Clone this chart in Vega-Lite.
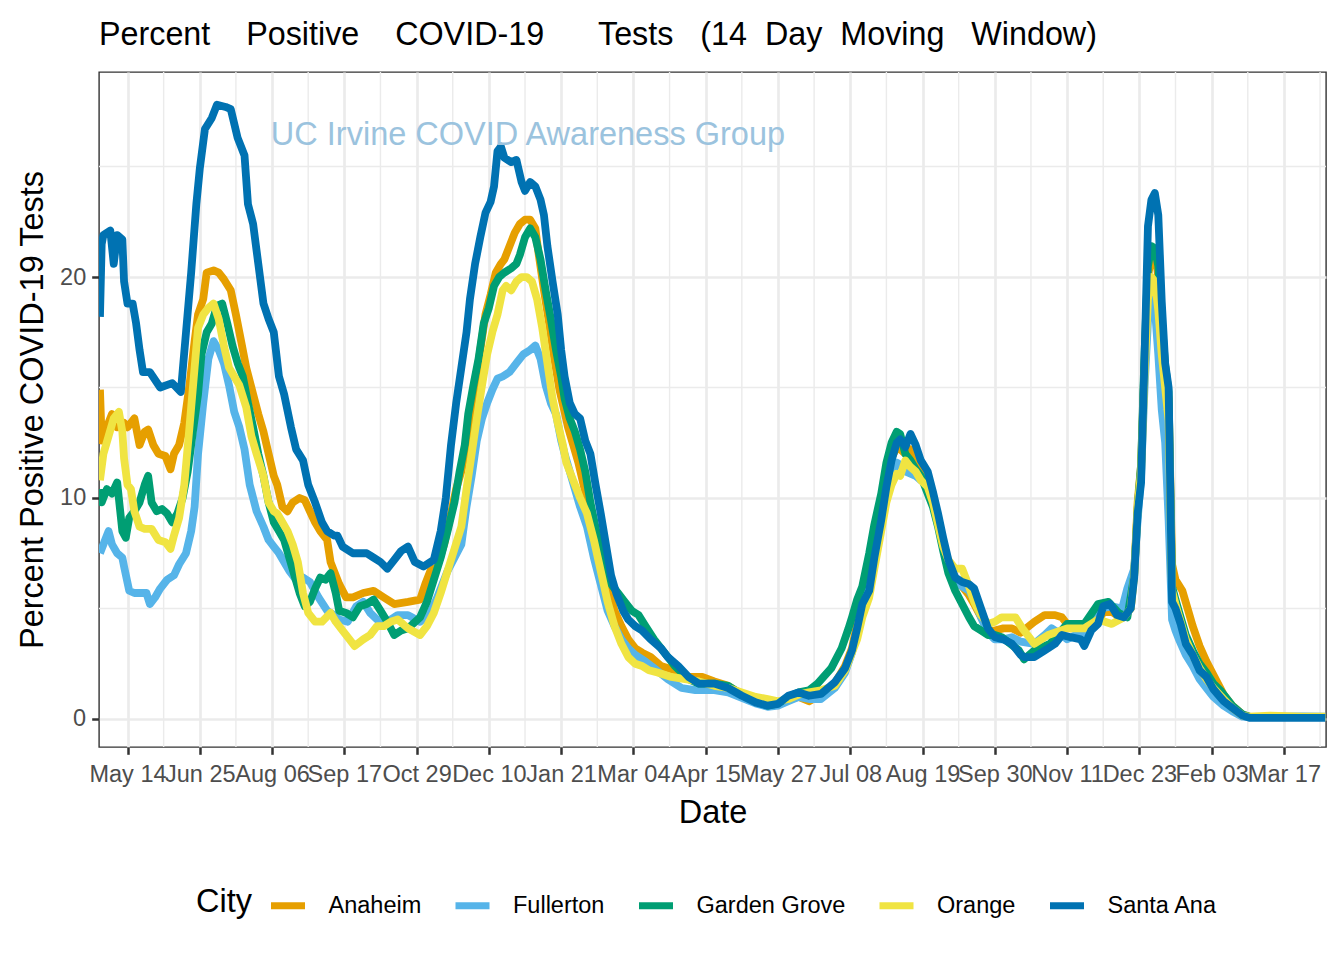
{
"$schema": "https://vega.github.io/schema/vega-lite/v6.json",
"width": 1227, "height": 675,
"autosize": {"type": "none"},
"padding": {"left": 99, "top": 72, "right": 18, "bottom": 213},
"background": "white",
"title": {"text": "Percent\u00a0\u00a0\u00a0\u00a0Positive\u00a0\u00a0\u00a0\u00a0COVID-19\u00a0\u00a0\u00a0\u00a0\u00a0\u00a0Tests\u00a0\u00a0\u00a0(14\u00a0\u00a0Day\u00a0\u00a0Moving\u00a0\u00a0\u00a0Window)", "anchor": "start", "frame": "group", "font": "Liberation Sans", "fontSize": 32.3, "fontWeight": "normal", "color": "#000000", "baseline": "alphabetic", "offset": 27, "dy": 33},
"datasets": {
"anaheim": [
{"d":"2020-04-28","v":14.9},{"d":"2020-04-29","v":12.6},{"d":"2020-05-02","v":13.2},{"d":"2020-05-05","v":13.8},{"d":"2020-05-08","v":13.2},{"d":"2020-05-12","v":13.4},{"d":"2020-05-14","v":13.2},{"d":"2020-05-18","v":13.6},{"d":"2020-05-21","v":12.4},{"d":"2020-05-24","v":13.0},{"d":"2020-05-26","v":13.1},{"d":"2020-05-29","v":12.4},{"d":"2020-06-01","v":12.0},{"d":"2020-06-05","v":11.9},{"d":"2020-06-08","v":11.3},{"d":"2020-06-10","v":12.0},{"d":"2020-06-13","v":12.4},{"d":"2020-06-16","v":13.4},{"d":"2020-06-19","v":15.1},{"d":"2020-06-22","v":17.1},{"d":"2020-06-24","v":18.3},{"d":"2020-06-27","v":19.0},{"d":"2020-06-29","v":20.2},{"d":"2020-07-03","v":20.3},{"d":"2020-07-06","v":20.2},{"d":"2020-07-09","v":19.9},{"d":"2020-07-13","v":19.4},{"d":"2020-07-16","v":18.3},{"d":"2020-07-19","v":17.1},{"d":"2020-07-22","v":15.9},{"d":"2020-07-26","v":14.7},{"d":"2020-07-29","v":13.8},{"d":"2020-08-01","v":13.0},{"d":"2020-08-04","v":12.0},{"d":"2020-08-07","v":11.0},{"d":"2020-08-09","v":10.6},{"d":"2020-08-12","v":9.6},{"d":"2020-08-15","v":9.4},{"d":"2020-08-18","v":9.8},{"d":"2020-08-22","v":10.0},{"d":"2020-08-25","v":9.9},{"d":"2020-08-28","v":9.4},{"d":"2020-08-31","v":8.9},{"d":"2020-09-03","v":8.5},{"d":"2020-09-07","v":8.1},{"d":"2020-09-09","v":7.1},{"d":"2020-09-12","v":6.5},{"d":"2020-09-14","v":6.1},{"d":"2020-09-18","v":5.5},{"d":"2020-09-22","v":5.5},{"d":"2020-09-28","v":5.7},{"d":"2020-10-04","v":5.8},{"d":"2020-10-10","v":5.5},{"d":"2020-10-16","v":5.2},{"d":"2020-10-24","v":5.3},{"d":"2020-10-31","v":5.4},{"d":"2020-11-03","v":6.1},{"d":"2020-11-06","v":6.7},{"d":"2020-11-10","v":6.9},{"d":"2020-11-14","v":7.9},{"d":"2020-11-18","v":9.3},{"d":"2020-11-21","v":10.4},{"d":"2020-11-24","v":11.2},{"d":"2020-11-27","v":12.4},{"d":"2020-11-29","v":13.6},{"d":"2020-12-02","v":15.1},{"d":"2020-12-05","v":16.7},{"d":"2020-12-08","v":18.3},{"d":"2020-12-11","v":19.2},{"d":"2020-12-14","v":20.2},{"d":"2020-12-17","v":20.6},{"d":"2020-12-19","v":20.8},{"d":"2020-12-22","v":21.4},{"d":"2020-12-25","v":22.0},{"d":"2020-12-28","v":22.4},{"d":"2020-12-31","v":22.6},{"d":"2021-01-03","v":22.6},{"d":"2021-01-06","v":22.2},{"d":"2021-01-08","v":21.0},{"d":"2021-01-11","v":19.4},{"d":"2021-01-14","v":17.9},{"d":"2021-01-17","v":16.3},{"d":"2021-01-20","v":14.9},{"d":"2021-01-23","v":13.9},{"d":"2021-01-25","v":13.2},{"d":"2021-01-28","v":12.4},{"d":"2021-01-31","v":11.6},{"d":"2021-02-03","v":10.6},{"d":"2021-02-06","v":9.6},{"d":"2021-02-09","v":8.5},{"d":"2021-02-13","v":7.3},{"d":"2021-02-17","v":6.1},{"d":"2021-02-21","v":4.9},{"d":"2021-02-25","v":4.2},{"d":"2021-03-01","v":3.6},{"d":"2021-03-05","v":3.2},{"d":"2021-03-09","v":3.0},{"d":"2021-03-14","v":2.8},{"d":"2021-03-20","v":2.4},{"d":"2021-03-28","v":2.2},{"d":"2021-04-05","v":1.9},{"d":"2021-04-13","v":1.9},{"d":"2021-04-20","v":1.7},{"d":"2021-04-28","v":1.5},{"d":"2021-05-06","v":1.1},{"d":"2021-05-14","v":0.8},{"d":"2021-05-21","v":0.65},{"d":"2021-05-27","v":0.7},{"d":"2021-06-02","v":0.9},{"d":"2021-06-08","v":1.0},{"d":"2021-06-14","v":0.8},{"d":"2021-06-21","v":1.1},{"d":"2021-06-29","v":1.6},{"d":"2021-07-05","v":2.4},{"d":"2021-07-09","v":3.2},{"d":"2021-07-12","v":4.3},{"d":"2021-07-15","v":5.3},{"d":"2021-07-19","v":6.0},{"d":"2021-07-22","v":7.6},{"d":"2021-07-26","v":9.3},{"d":"2021-07-29","v":10.8},{"d":"2021-08-01","v":11.8},{"d":"2021-08-04","v":12.3},{"d":"2021-08-06","v":12.2},{"d":"2021-08-09","v":12.0},{"d":"2021-08-12","v":12.2},{"d":"2021-08-15","v":11.8},{"d":"2021-08-18","v":11.3},{"d":"2021-08-22","v":10.8},{"d":"2021-08-25","v":10.0},{"d":"2021-08-28","v":9.0},{"d":"2021-08-31","v":8.0},{"d":"2021-09-03","v":7.0},{"d":"2021-09-07","v":6.3},{"d":"2021-09-11","v":6.0},{"d":"2021-09-15","v":5.6},{"d":"2021-09-18","v":5.2},{"d":"2021-09-22","v":4.6},{"d":"2021-09-26","v":4.0},{"d":"2021-09-30","v":4.0},{"d":"2021-10-05","v":4.1},{"d":"2021-10-10","v":4.1},{"d":"2021-10-15","v":3.9},{"d":"2021-10-23","v":4.4},{"d":"2021-10-29","v":4.7},{"d":"2021-11-04","v":4.7},{"d":"2021-11-08","v":4.6},{"d":"2021-11-13","v":4.1},{"d":"2021-11-19","v":4.2},{"d":"2021-11-25","v":4.4},{"d":"2021-11-29","v":4.4},{"d":"2021-12-02","v":4.8},{"d":"2021-12-06","v":4.9},{"d":"2021-12-10","v":4.7},{"d":"2021-12-14","v":4.7},{"d":"2021-12-18","v":5.0},{"d":"2021-12-20","v":6.6},{"d":"2021-12-22","v":9.8},{"d":"2021-12-24","v":11.5},{"d":"2021-12-26","v":16.0},{"d":"2021-12-28","v":20.0},{"d":"2021-12-30","v":21.0},{"d":"2022-01-01","v":21.2},{"d":"2022-01-03","v":20.0},{"d":"2022-01-05","v":17.5},{"d":"2022-01-07","v":15.5},{"d":"2022-01-09","v":14.5},{"d":"2022-01-11","v":7.0},{"d":"2022-01-13","v":6.3},{"d":"2022-01-17","v":5.8},{"d":"2022-01-20","v":5.0},{"d":"2022-01-23","v":4.2},{"d":"2022-01-27","v":3.3},{"d":"2022-01-31","v":2.6},{"d":"2022-02-04","v":2.0},{"d":"2022-02-10","v":1.1},{"d":"2022-02-15","v":0.6},{"d":"2022-02-21","v":0.2},{"d":"2022-02-25","v":0.1},{"d":"2022-03-09","v":0.08},{"d":"2022-03-28","v":0.08},{"d":"2022-04-10","v":0.08}
],
"fullerton": [
{"d":"2020-04-28","v":7.5},{"d":"2020-05-01","v":8.1},{"d":"2020-05-03","v":8.5},{"d":"2020-05-05","v":7.9},{"d":"2020-05-08","v":7.5},{"d":"2020-05-11","v":7.3},{"d":"2020-05-12","v":6.9},{"d":"2020-05-15","v":5.8},{"d":"2020-05-18","v":5.7},{"d":"2020-05-22","v":5.7},{"d":"2020-05-25","v":5.7},{"d":"2020-05-27","v":5.2},{"d":"2020-05-30","v":5.5},{"d":"2020-06-02","v":5.9},{"d":"2020-06-06","v":6.3},{"d":"2020-06-10","v":6.5},{"d":"2020-06-13","v":7.0},{"d":"2020-06-17","v":7.5},{"d":"2020-06-20","v":8.5},{"d":"2020-06-22","v":9.6},{"d":"2020-06-24","v":12.0},{"d":"2020-06-27","v":14.3},{"d":"2020-06-30","v":16.3},{"d":"2020-07-03","v":17.1},{"d":"2020-07-06","v":16.7},{"d":"2020-07-09","v":16.1},{"d":"2020-07-12","v":15.1},{"d":"2020-07-15","v":13.9},{"d":"2020-07-18","v":13.2},{"d":"2020-07-21","v":12.2},{"d":"2020-07-24","v":10.6},{"d":"2020-07-28","v":9.4},{"d":"2020-08-01","v":8.7},{"d":"2020-08-04","v":8.1},{"d":"2020-08-07","v":7.8},{"d":"2020-08-10","v":7.5},{"d":"2020-08-13","v":7.1},{"d":"2020-08-16","v":6.7},{"d":"2020-08-20","v":6.3},{"d":"2020-08-24","v":6.4},{"d":"2020-08-28","v":6.2},{"d":"2020-09-02","v":5.5},{"d":"2020-09-07","v":4.9},{"d":"2020-09-11","v":4.7},{"d":"2020-09-14","v":4.5},{"d":"2020-09-19","v":4.4},{"d":"2020-09-24","v":5.1},{"d":"2020-09-28","v":5.3},{"d":"2020-10-02","v":4.8},{"d":"2020-10-06","v":4.5},{"d":"2020-10-12","v":4.4},{"d":"2020-10-18","v":4.7},{"d":"2020-10-24","v":4.7},{"d":"2020-10-31","v":4.4},{"d":"2020-11-06","v":4.8},{"d":"2020-11-10","v":5.5},{"d":"2020-11-13","v":6.1},{"d":"2020-11-16","v":6.7},{"d":"2020-11-20","v":7.3},{"d":"2020-11-24","v":7.9},{"d":"2020-11-27","v":9.6},{"d":"2020-11-30","v":11.0},{"d":"2020-12-03","v":12.6},{"d":"2020-12-06","v":13.6},{"d":"2020-12-09","v":14.3},{"d":"2020-12-12","v":14.9},{"d":"2020-12-15","v":15.4},{"d":"2020-12-18","v":15.5},{"d":"2020-12-22","v":15.7},{"d":"2020-12-26","v":16.1},{"d":"2020-12-30","v":16.5},{"d":"2021-01-03","v":16.7},{"d":"2021-01-06","v":16.9},{"d":"2021-01-09","v":16.3},{"d":"2021-01-12","v":15.1},{"d":"2021-01-15","v":14.3},{"d":"2021-01-18","v":13.8},{"d":"2021-01-21","v":12.6},{"d":"2021-01-23","v":12.0},{"d":"2021-01-26","v":11.2},{"d":"2021-01-29","v":10.4},{"d":"2021-02-01","v":9.6},{"d":"2021-02-05","v":8.7},{"d":"2021-02-09","v":7.3},{"d":"2021-02-13","v":6.1},{"d":"2021-02-17","v":4.9},{"d":"2021-02-21","v":4.2},{"d":"2021-02-25","v":3.6},{"d":"2021-03-01","v":3.2},{"d":"2021-03-05","v":2.9},{"d":"2021-03-11","v":2.6},{"d":"2021-03-16","v":2.3},{"d":"2021-03-24","v":1.8},{"d":"2021-04-01","v":1.4},{"d":"2021-04-09","v":1.3},{"d":"2021-04-20","v":1.3},{"d":"2021-04-28","v":1.2},{"d":"2021-05-06","v":0.95},{"d":"2021-05-14","v":0.7},{"d":"2021-05-21","v":0.55},{"d":"2021-05-27","v":0.6},{"d":"2021-06-02","v":0.8},{"d":"2021-06-08","v":1.0},{"d":"2021-06-14","v":0.9},{"d":"2021-06-21","v":0.9},{"d":"2021-06-29","v":1.4},{"d":"2021-07-05","v":2.1},{"d":"2021-07-09","v":3.0},{"d":"2021-07-12","v":4.0},{"d":"2021-07-15","v":5.3},{"d":"2021-07-19","v":6.0},{"d":"2021-07-22","v":7.2},{"d":"2021-07-26","v":8.8},{"d":"2021-07-29","v":10.2},{"d":"2021-08-01","v":11.0},{"d":"2021-08-04","v":11.6},{"d":"2021-08-06","v":11.5},{"d":"2021-08-09","v":11.2},{"d":"2021-08-12","v":11.1},{"d":"2021-08-15","v":11.0},{"d":"2021-08-18","v":10.8},{"d":"2021-08-22","v":10.6},{"d":"2021-08-25","v":10.0},{"d":"2021-08-28","v":9.0},{"d":"2021-08-31","v":7.8},{"d":"2021-09-03","v":6.9},{"d":"2021-09-07","v":6.2},{"d":"2021-09-11","v":6.0},{"d":"2021-09-15","v":5.8},{"d":"2021-09-18","v":5.4},{"d":"2021-09-22","v":4.6},{"d":"2021-09-26","v":3.9},{"d":"2021-09-30","v":3.6},{"d":"2021-10-05","v":3.6},{"d":"2021-10-10","v":3.7},{"d":"2021-10-15","v":3.5},{"d":"2021-10-23","v":3.4},{"d":"2021-10-29","v":3.8},{"d":"2021-11-02","v":4.1},{"d":"2021-11-08","v":3.8},{"d":"2021-11-11","v":3.6},{"d":"2021-11-16","v":3.8},{"d":"2021-11-21","v":3.9},{"d":"2021-11-25","v":4.1},{"d":"2021-12-01","v":5.0},{"d":"2021-12-07","v":5.1},{"d":"2021-12-13","v":5.0},{"d":"2021-12-16","v":5.9},{"d":"2021-12-20","v":6.8},{"d":"2021-12-22","v":9.0},{"d":"2021-12-24","v":11.0},{"d":"2021-12-26","v":15.0},{"d":"2021-12-28","v":18.0},{"d":"2021-12-30","v":19.0},{"d":"2022-01-01","v":18.6},{"d":"2022-01-03","v":16.5},{"d":"2022-01-05","v":14.0},{"d":"2022-01-07","v":12.5},{"d":"2022-01-09","v":9.0},{"d":"2022-01-11","v":4.5},{"d":"2022-01-13","v":4.0},{"d":"2022-01-15","v":3.6},{"d":"2022-01-19","v":2.9},{"d":"2022-01-23","v":2.4},{"d":"2022-01-27","v":1.8},{"d":"2022-01-31","v":1.4},{"d":"2022-02-04","v":1.0},{"d":"2022-02-10","v":0.6},{"d":"2022-02-15","v":0.35},{"d":"2022-02-21","v":0.1},{"d":"2022-02-25","v":0.08},{"d":"2022-03-09","v":0.1},{"d":"2022-03-28","v":0.12},{"d":"2022-04-10","v":0.1}
],
"gardengrove": [
{"d":"2020-04-28","v":10.4},{"d":"2020-04-29","v":9.8},{"d":"2020-05-02","v":10.4},{"d":"2020-05-05","v":10.2},{"d":"2020-05-08","v":10.7},{"d":"2020-05-11","v":8.5},{"d":"2020-05-13","v":8.2},{"d":"2020-05-15","v":9.1},{"d":"2020-05-18","v":9.4},{"d":"2020-05-21","v":9.8},{"d":"2020-05-24","v":10.6},{"d":"2020-05-26","v":11.0},{"d":"2020-05-28","v":9.8},{"d":"2020-05-31","v":9.4},{"d":"2020-06-03","v":9.5},{"d":"2020-06-06","v":9.3},{"d":"2020-06-09","v":8.9},{"d":"2020-06-12","v":9.3},{"d":"2020-06-15","v":10.0},{"d":"2020-06-18","v":11.2},{"d":"2020-06-21","v":13.0},{"d":"2020-06-24","v":14.7},{"d":"2020-06-26","v":16.5},{"d":"2020-06-29","v":17.5},{"d":"2020-07-02","v":17.9},{"d":"2020-07-05","v":18.7},{"d":"2020-07-08","v":18.8},{"d":"2020-07-11","v":17.9},{"d":"2020-07-14","v":16.9},{"d":"2020-07-17","v":16.1},{"d":"2020-07-20","v":15.5},{"d":"2020-07-23","v":14.3},{"d":"2020-07-26","v":13.2},{"d":"2020-07-29","v":12.0},{"d":"2020-08-01","v":11.0},{"d":"2020-08-04","v":9.8},{"d":"2020-08-07","v":8.9},{"d":"2020-08-10","v":8.5},{"d":"2020-08-13","v":8.1},{"d":"2020-08-16","v":7.3},{"d":"2020-08-19","v":6.5},{"d":"2020-08-22","v":5.7},{"d":"2020-08-25","v":5.1},{"d":"2020-08-28","v":5.3},{"d":"2020-08-31","v":5.9},{"d":"2020-09-03","v":6.4},{"d":"2020-09-06","v":6.3},{"d":"2020-09-09","v":6.6},{"d":"2020-09-12","v":5.7},{"d":"2020-09-14","v":4.9},{"d":"2020-09-18","v":4.8},{"d":"2020-09-22","v":4.6},{"d":"2020-09-26","v":5.1},{"d":"2020-09-30","v":5.2},{"d":"2020-10-04","v":5.4},{"d":"2020-10-08","v":4.9},{"d":"2020-10-12","v":4.4},{"d":"2020-10-16","v":3.8},{"d":"2020-10-20","v":4.0},{"d":"2020-10-24","v":4.1},{"d":"2020-10-31","v":4.6},{"d":"2020-11-04","v":5.3},{"d":"2020-11-08","v":6.3},{"d":"2020-11-12","v":7.3},{"d":"2020-11-16","v":8.5},{"d":"2020-11-20","v":9.8},{"d":"2020-11-23","v":11.2},{"d":"2020-11-26","v":12.4},{"d":"2020-11-28","v":13.8},{"d":"2020-12-01","v":15.1},{"d":"2020-12-04","v":16.3},{"d":"2020-12-07","v":17.9},{"d":"2020-12-10","v":18.6},{"d":"2020-12-13","v":19.6},{"d":"2020-12-16","v":20.0},{"d":"2020-12-19","v":20.2},{"d":"2020-12-23","v":20.4},{"d":"2020-12-26","v":20.6},{"d":"2020-12-28","v":21.0},{"d":"2020-12-31","v":21.8},{"d":"2021-01-03","v":22.2},{"d":"2021-01-06","v":21.8},{"d":"2021-01-09","v":20.8},{"d":"2021-01-12","v":19.4},{"d":"2021-01-15","v":18.1},{"d":"2021-01-18","v":16.7},{"d":"2021-01-21","v":15.5},{"d":"2021-01-23","v":14.5},{"d":"2021-01-26","v":13.6},{"d":"2021-01-29","v":13.0},{"d":"2021-02-01","v":12.2},{"d":"2021-02-04","v":11.2},{"d":"2021-02-07","v":9.8},{"d":"2021-02-11","v":8.3},{"d":"2021-02-15","v":6.9},{"d":"2021-02-19","v":6.1},{"d":"2021-02-23","v":5.7},{"d":"2021-02-27","v":5.3},{"d":"2021-03-03","v":4.9},{"d":"2021-03-07","v":4.7},{"d":"2021-03-11","v":4.2},{"d":"2021-03-16","v":3.6},{"d":"2021-03-22","v":3.0},{"d":"2021-03-28","v":2.4},{"d":"2021-04-05","v":1.8},{"d":"2021-04-11","v":1.6},{"d":"2021-04-20","v":1.6},{"d":"2021-04-28","v":1.5},{"d":"2021-05-06","v":1.1},{"d":"2021-05-14","v":0.8},{"d":"2021-05-21","v":0.6},{"d":"2021-05-27","v":0.7},{"d":"2021-06-02","v":1.0},{"d":"2021-06-08","v":1.2},{"d":"2021-06-14","v":1.3},{"d":"2021-06-19","v":1.6},{"d":"2021-06-27","v":2.3},{"d":"2021-07-03","v":3.2},{"d":"2021-07-07","v":4.1},{"d":"2021-07-09","v":4.6},{"d":"2021-07-12","v":5.4},{"d":"2021-07-15","v":6.0},{"d":"2021-07-19","v":7.5},{"d":"2021-07-22","v":8.8},{"d":"2021-07-26","v":10.2},{"d":"2021-07-29","v":11.6},{"d":"2021-08-01","v":12.5},{"d":"2021-08-04","v":13.0},{"d":"2021-08-06","v":12.9},{"d":"2021-08-09","v":12.0},{"d":"2021-08-12","v":11.7},{"d":"2021-08-15","v":11.3},{"d":"2021-08-18","v":11.0},{"d":"2021-08-22","v":10.2},{"d":"2021-08-25","v":9.6},{"d":"2021-08-28","v":8.7},{"d":"2021-08-31","v":7.6},{"d":"2021-09-03","v":6.6},{"d":"2021-09-07","v":5.8},{"d":"2021-09-11","v":5.2},{"d":"2021-09-15","v":4.6},{"d":"2021-09-18","v":4.2},{"d":"2021-09-22","v":4.0},{"d":"2021-09-26","v":3.8},{"d":"2021-09-30","v":3.8},{"d":"2021-10-04","v":3.7},{"d":"2021-10-14","v":3.1},{"d":"2021-10-17","v":2.7},{"d":"2021-10-23","v":3.1},{"d":"2021-11-01","v":3.4},{"d":"2021-11-11","v":4.3},{"d":"2021-11-21","v":4.3},{"d":"2021-11-29","v":5.2},{"d":"2021-12-05","v":5.3},{"d":"2021-12-11","v":4.8},{"d":"2021-12-16","v":4.6},{"d":"2021-12-20","v":6.5},{"d":"2021-12-22","v":9.5},{"d":"2021-12-24","v":11.5},{"d":"2021-12-26","v":16.5},{"d":"2021-12-28","v":20.5},{"d":"2021-12-30","v":21.4},{"d":"2022-01-01","v":21.3},{"d":"2022-01-03","v":20.5},{"d":"2022-01-05","v":18.0},{"d":"2022-01-07","v":16.0},{"d":"2022-01-09","v":14.8},{"d":"2022-01-11","v":6.0},{"d":"2022-01-13","v":5.4},{"d":"2022-01-16","v":4.6},{"d":"2022-01-19","v":3.8},{"d":"2022-01-23","v":3.1},{"d":"2022-01-27","v":2.5},{"d":"2022-01-31","v":2.1},{"d":"2022-02-04","v":1.6},{"d":"2022-02-08","v":1.3},{"d":"2022-02-15","v":0.6},{"d":"2022-02-21","v":0.2},{"d":"2022-02-25","v":0.1},{"d":"2022-03-09","v":0.08},{"d":"2022-03-28","v":0.08},{"d":"2022-04-10","v":0.08}
],
"orange": [
{"d":"2020-04-28","v":10.8},{"d":"2020-04-30","v":12.0},{"d":"2020-05-03","v":12.8},{"d":"2020-05-06","v":13.6},{"d":"2020-05-09","v":13.9},{"d":"2020-05-11","v":13.0},{"d":"2020-05-12","v":11.8},{"d":"2020-05-14","v":10.6},{"d":"2020-05-16","v":10.4},{"d":"2020-05-18","v":9.4},{"d":"2020-05-21","v":8.7},{"d":"2020-05-24","v":8.6},{"d":"2020-05-28","v":8.6},{"d":"2020-06-01","v":8.1},{"d":"2020-06-05","v":8.0},{"d":"2020-06-08","v":7.7},{"d":"2020-06-10","v":8.3},{"d":"2020-06-13","v":9.1},{"d":"2020-06-16","v":10.6},{"d":"2020-06-19","v":13.2},{"d":"2020-06-22","v":15.9},{"d":"2020-06-24","v":17.7},{"d":"2020-06-27","v":18.3},{"d":"2020-06-30","v":18.6},{"d":"2020-07-03","v":18.8},{"d":"2020-07-06","v":18.1},{"d":"2020-07-09","v":16.9},{"d":"2020-07-12","v":15.9},{"d":"2020-07-15","v":15.5},{"d":"2020-07-18","v":15.1},{"d":"2020-07-22","v":14.1},{"d":"2020-07-25","v":12.8},{"d":"2020-07-28","v":12.0},{"d":"2020-08-01","v":11.0},{"d":"2020-08-04","v":9.8},{"d":"2020-08-07","v":9.4},{"d":"2020-08-09","v":9.3},{"d":"2020-08-12","v":8.9},{"d":"2020-08-15","v":8.5},{"d":"2020-08-18","v":7.9},{"d":"2020-08-21","v":7.1},{"d":"2020-08-24","v":5.7},{"d":"2020-08-27","v":4.8},{"d":"2020-08-31","v":4.4},{"d":"2020-09-04","v":4.4},{"d":"2020-09-09","v":4.8},{"d":"2020-09-12","v":4.4},{"d":"2020-09-16","v":4.0},{"d":"2020-09-20","v":3.6},{"d":"2020-09-23","v":3.3},{"d":"2020-09-28","v":3.6},{"d":"2020-10-02","v":3.8},{"d":"2020-10-06","v":4.2},{"d":"2020-10-10","v":4.2},{"d":"2020-10-14","v":4.4},{"d":"2020-10-18","v":4.5},{"d":"2020-10-24","v":4.1},{"d":"2020-10-31","v":3.8},{"d":"2020-11-04","v":4.2},{"d":"2020-11-08","v":4.8},{"d":"2020-11-12","v":5.7},{"d":"2020-11-16","v":6.7},{"d":"2020-11-20","v":7.7},{"d":"2020-11-24","v":8.7},{"d":"2020-11-27","v":10.4},{"d":"2020-11-30","v":12.0},{"d":"2020-12-03","v":13.6},{"d":"2020-12-06","v":15.1},{"d":"2020-12-09","v":16.5},{"d":"2020-12-12","v":17.5},{"d":"2020-12-15","v":18.3},{"d":"2020-12-18","v":19.4},{"d":"2020-12-20","v":19.6},{"d":"2020-12-23","v":19.4},{"d":"2020-12-26","v":19.8},{"d":"2020-12-29","v":20.0},{"d":"2021-01-01","v":20.0},{"d":"2021-01-04","v":19.8},{"d":"2021-01-07","v":19.0},{"d":"2021-01-10","v":17.7},{"d":"2021-01-13","v":16.1},{"d":"2021-01-16","v":14.5},{"d":"2021-01-19","v":13.4},{"d":"2021-01-22","v":12.4},{"d":"2021-01-24","v":11.6},{"d":"2021-01-28","v":10.8},{"d":"2021-02-01","v":10.0},{"d":"2021-02-05","v":9.3},{"d":"2021-02-09","v":8.1},{"d":"2021-02-13","v":6.7},{"d":"2021-02-17","v":5.3},{"d":"2021-02-21","v":4.2},{"d":"2021-02-25","v":3.4},{"d":"2021-03-01","v":2.8},{"d":"2021-03-05","v":2.5},{"d":"2021-03-09","v":2.4},{"d":"2021-03-13","v":2.2},{"d":"2021-03-18","v":2.1},{"d":"2021-03-26","v":1.9},{"d":"2021-04-03","v":1.8},{"d":"2021-04-11","v":1.7},{"d":"2021-04-20","v":1.5},{"d":"2021-04-28","v":1.4},{"d":"2021-05-06","v":1.2},{"d":"2021-05-14","v":1.0},{"d":"2021-05-21","v":0.9},{"d":"2021-05-27","v":0.8},{"d":"2021-06-02","v":0.9},{"d":"2021-06-08","v":1.1},{"d":"2021-06-14","v":1.2},{"d":"2021-06-21","v":1.3},{"d":"2021-06-29","v":1.5},{"d":"2021-07-05","v":2.2},{"d":"2021-07-09","v":3.0},{"d":"2021-07-12","v":3.6},{"d":"2021-07-15","v":4.6},{"d":"2021-07-19","v":5.5},{"d":"2021-07-22","v":6.8},{"d":"2021-07-26","v":8.5},{"d":"2021-07-29","v":9.8},{"d":"2021-08-01","v":10.6},{"d":"2021-08-04","v":11.1},{"d":"2021-08-06","v":11.0},{"d":"2021-08-09","v":11.7},{"d":"2021-08-12","v":11.4},{"d":"2021-08-15","v":11.2},{"d":"2021-08-18","v":10.8},{"d":"2021-08-22","v":10.5},{"d":"2021-08-25","v":9.8},{"d":"2021-08-28","v":8.8},{"d":"2021-08-31","v":7.8},{"d":"2021-09-03","v":7.2},{"d":"2021-09-07","v":6.8},{"d":"2021-09-11","v":6.8},{"d":"2021-09-15","v":6.0},{"d":"2021-09-18","v":5.3},{"d":"2021-09-22","v":4.7},{"d":"2021-09-26","v":4.3},{"d":"2021-09-30","v":4.4},{"d":"2021-10-04","v":4.6},{"d":"2021-10-12","v":4.6},{"d":"2021-10-16","v":4.1},{"d":"2021-10-23","v":3.4},{"d":"2021-10-31","v":3.8},{"d":"2021-11-11","v":4.1},{"d":"2021-11-21","v":4.1},{"d":"2021-11-29","v":4.5},{"d":"2021-12-07","v":4.3},{"d":"2021-12-14","v":4.6},{"d":"2021-12-18","v":5.0},{"d":"2021-12-20","v":6.5},{"d":"2021-12-22","v":9.6},{"d":"2021-12-24","v":11.2},{"d":"2021-12-26","v":15.5},{"d":"2021-12-28","v":19.0},{"d":"2021-12-30","v":20.0},{"d":"2022-01-01","v":19.8},{"d":"2022-01-03","v":18.5},{"d":"2022-01-05","v":16.5},{"d":"2022-01-07","v":15.0},{"d":"2022-01-09","v":13.5},{"d":"2022-01-11","v":5.8},{"d":"2022-01-13","v":5.2},{"d":"2022-01-16","v":4.4},{"d":"2022-01-19","v":3.6},{"d":"2022-01-23","v":2.9},{"d":"2022-01-27","v":2.3},{"d":"2022-01-31","v":1.8},{"d":"2022-02-04","v":1.4},{"d":"2022-02-10","v":0.9},{"d":"2022-02-15","v":0.5},{"d":"2022-02-21","v":0.15},{"d":"2022-02-25","v":0.1},{"d":"2022-03-09","v":0.15},{"d":"2022-03-28","v":0.1},{"d":"2022-04-10","v":0.1}
],
"santaana": [
{"d":"2020-04-28","v":18.2},{"d":"2020-04-29","v":21.5},{"d":"2020-04-30","v":21.9},{"d":"2020-05-04","v":22.1},{"d":"2020-05-06","v":20.6},{"d":"2020-05-08","v":21.9},{"d":"2020-05-11","v":21.7},{"d":"2020-05-12","v":19.8},{"d":"2020-05-14","v":18.8},{"d":"2020-05-17","v":18.8},{"d":"2020-05-19","v":17.9},{"d":"2020-05-21","v":16.7},{"d":"2020-05-23","v":15.7},{"d":"2020-05-27","v":15.7},{"d":"2020-06-02","v":15.0},{"d":"2020-06-09","v":15.2},{"d":"2020-06-14","v":14.8},{"d":"2020-06-17","v":17.5},{"d":"2020-06-20","v":20.2},{"d":"2020-06-23","v":23.3},{"d":"2020-06-25","v":24.9},{"d":"2020-06-28","v":26.7},{"d":"2020-07-02","v":27.2},{"d":"2020-07-05","v":27.8},{"d":"2020-07-10","v":27.7},{"d":"2020-07-13","v":27.6},{"d":"2020-07-17","v":26.3},{"d":"2020-07-21","v":25.5},{"d":"2020-07-23","v":23.3},{"d":"2020-07-26","v":22.4},{"d":"2020-07-29","v":20.6},{"d":"2020-08-01","v":18.8},{"d":"2020-08-04","v":18.1},{"d":"2020-08-07","v":17.5},{"d":"2020-08-10","v":15.5},{"d":"2020-08-13","v":14.7},{"d":"2020-08-17","v":13.2},{"d":"2020-08-20","v":12.2},{"d":"2020-08-24","v":11.7},{"d":"2020-08-27","v":10.6},{"d":"2020-08-31","v":9.8},{"d":"2020-09-04","v":8.9},{"d":"2020-09-07","v":8.5},{"d":"2020-09-11","v":8.3},{"d":"2020-09-13","v":8.3},{"d":"2020-09-16","v":7.8},{"d":"2020-09-22","v":7.5},{"d":"2020-09-30","v":7.5},{"d":"2020-10-04","v":7.3},{"d":"2020-10-08","v":7.1},{"d":"2020-10-12","v":6.8},{"d":"2020-10-16","v":7.2},{"d":"2020-10-20","v":7.6},{"d":"2020-10-24","v":7.8},{"d":"2020-10-28","v":7.1},{"d":"2020-11-02","v":6.9},{"d":"2020-11-08","v":7.2},{"d":"2020-11-12","v":8.5},{"d":"2020-11-15","v":10.0},{"d":"2020-11-18","v":12.4},{"d":"2020-11-21","v":14.3},{"d":"2020-11-24","v":15.9},{"d":"2020-11-27","v":17.5},{"d":"2020-11-29","v":19.0},{"d":"2020-12-02","v":20.6},{"d":"2020-12-05","v":21.8},{"d":"2020-12-08","v":22.9},{"d":"2020-12-11","v":23.4},{"d":"2020-12-13","v":24.1},{"d":"2020-12-15","v":25.7},{"d":"2020-12-17","v":25.9},{"d":"2020-12-19","v":25.4},{"d":"2020-12-23","v":25.2},{"d":"2020-12-26","v":25.3},{"d":"2020-12-29","v":24.3},{"d":"2020-12-31","v":23.9},{"d":"2021-01-03","v":24.3},{"d":"2021-01-06","v":24.1},{"d":"2021-01-09","v":23.5},{"d":"2021-01-11","v":22.8},{"d":"2021-01-13","v":21.4},{"d":"2021-01-16","v":19.8},{"d":"2021-01-19","v":18.3},{"d":"2021-01-21","v":16.7},{"d":"2021-01-23","v":15.5},{"d":"2021-01-26","v":14.3},{"d":"2021-01-29","v":13.8},{"d":"2021-02-01","v":13.6},{"d":"2021-02-04","v":12.6},{"d":"2021-02-07","v":12.0},{"d":"2021-02-10","v":10.6},{"d":"2021-02-13","v":9.3},{"d":"2021-02-16","v":7.9},{"d":"2021-02-19","v":6.5},{"d":"2021-02-22","v":5.7},{"d":"2021-02-26","v":4.9},{"d":"2021-03-01","v":4.5},{"d":"2021-03-05","v":4.2},{"d":"2021-03-09","v":4.0},{"d":"2021-03-14","v":3.6},{"d":"2021-03-20","v":3.2},{"d":"2021-03-24","v":2.8},{"d":"2021-03-30","v":2.4},{"d":"2021-04-05","v":1.9},{"d":"2021-04-11","v":1.6},{"d":"2021-04-20","v":1.6},{"d":"2021-04-28","v":1.4},{"d":"2021-05-06","v":1.05},{"d":"2021-05-14","v":0.75},{"d":"2021-05-21","v":0.6},{"d":"2021-05-27","v":0.68},{"d":"2021-06-02","v":1.05},{"d":"2021-06-08","v":1.2},{"d":"2021-06-14","v":1.05},{"d":"2021-06-21","v":1.13},{"d":"2021-06-29","v":1.66},{"d":"2021-07-05","v":2.3},{"d":"2021-07-09","v":3.1},{"d":"2021-07-12","v":4.1},{"d":"2021-07-15","v":5.2},{"d":"2021-07-19","v":5.8},{"d":"2021-07-22","v":7.3},{"d":"2021-07-26","v":9.0},{"d":"2021-07-29","v":10.5},{"d":"2021-08-01","v":11.7},{"d":"2021-08-04","v":12.5},{"d":"2021-08-06","v":12.65},{"d":"2021-08-09","v":12.3},{"d":"2021-08-12","v":12.9},{"d":"2021-08-15","v":12.4},{"d":"2021-08-18","v":11.7},{"d":"2021-08-22","v":11.2},{"d":"2021-08-25","v":10.3},{"d":"2021-08-28","v":9.3},{"d":"2021-08-31","v":8.2},{"d":"2021-09-03","v":7.2},{"d":"2021-09-07","v":6.4},{"d":"2021-09-11","v":6.2},{"d":"2021-09-15","v":6.1},{"d":"2021-09-18","v":5.9},{"d":"2021-09-22","v":5.0},{"d":"2021-09-26","v":4.1},{"d":"2021-09-30","v":3.7},{"d":"2021-10-05","v":3.6},{"d":"2021-10-10","v":3.4},{"d":"2021-10-15","v":2.9},{"d":"2021-10-17","v":2.8},{"d":"2021-10-23","v":2.8},{"d":"2021-10-29","v":3.1},{"d":"2021-11-04","v":3.4},{"d":"2021-11-08","v":3.8},{"d":"2021-11-13","v":3.7},{"d":"2021-11-19","v":3.6},{"d":"2021-11-21","v":3.3},{"d":"2021-11-25","v":4.0},{"d":"2021-11-29","v":4.3},{"d":"2021-12-02","v":5.1},{"d":"2021-12-06","v":5.2},{"d":"2021-12-10","v":4.7},{"d":"2021-12-14","v":4.6},{"d":"2021-12-18","v":5.0},{"d":"2021-12-20","v":6.4},{"d":"2021-12-22","v":9.3},{"d":"2021-12-24","v":10.7},{"d":"2021-12-26","v":16.3},{"d":"2021-12-28","v":22.3},{"d":"2021-12-30","v":23.5},{"d":"2022-01-01","v":23.8},{"d":"2022-01-03","v":22.8},{"d":"2022-01-05","v":18.9},{"d":"2022-01-07","v":16.1},{"d":"2022-01-09","v":15.0},{"d":"2022-01-10","v":10.2},{"d":"2022-01-11","v":5.3},{"d":"2022-01-13","v":5.0},{"d":"2022-01-16","v":4.3},{"d":"2022-01-19","v":3.4},{"d":"2022-01-23","v":2.9},{"d":"2022-01-27","v":2.2},{"d":"2022-01-31","v":1.9},{"d":"2022-02-04","v":1.35},{"d":"2022-02-10","v":0.8},{"d":"2022-02-15","v":0.5},{"d":"2022-02-21","v":0.15},{"d":"2022-02-25","v":0.05},{"d":"2022-03-09","v":0.05},{"d":"2022-03-28","v":0.05},{"d":"2022-04-10","v":0.05}
]
},
"layer": [
{"data": {"values": [{"d":"2020-06-04"},{"d":"2020-07-16"},{"d":"2020-08-27"},{"d":"2020-10-08"},{"d":"2020-11-19"},{"d":"2020-12-31"},{"d":"2021-02-11"},{"d":"2021-03-25"},{"d":"2021-05-06"},{"d":"2021-06-17"},{"d":"2021-07-29"},{"d":"2021-09-09"},{"d":"2021-10-21"},{"d":"2021-12-02"},{"d":"2022-01-13"},{"d":"2022-02-24"},{"d":"2022-04-07"}]},
 "mark": {"type": "rule", "color": "#EBEBEB", "strokeWidth": 1.4},
 "encoding": {"x": {"field": "d", "type": "temporal", "scale": {"type": "utc", "nice": false, "domain": [{"year":2020,"month":4,"date":27,"hours":10,"minutes":30,"utc":true},{"year":2022,"month":4,"date":10,"hours":11,"utc":true}]}}}},
{"data": {"values": [{"v":5},{"v":15},{"v":25}]},
 "mark": {"type": "rule", "color": "#EBEBEB", "strokeWidth": 1.4},
 "encoding": {"y": {"field": "v", "type": "quantitative", "scale": {"domain": [-1.27, 29.28], "nice": false, "zero": false}}}},
{"encoding": {
  "x": {"field": "d", "type": "temporal",
   "scale": {"type": "utc", "nice": false, "domain": [{"year":2020,"month":4,"date":27,"hours":10,"minutes":30,"utc":true},{"year":2022,"month":4,"date":10,"hours":11,"utc":true}]},
   "axis": {"title": "Date", "format": "%b %d",
    "values": [{"year":2020,"month":5,"date":14,"utc":true},{"year":2020,"month":6,"date":25,"utc":true},{"year":2020,"month":8,"date":6,"utc":true},{"year":2020,"month":9,"date":17,"utc":true},{"year":2020,"month":10,"date":29,"utc":true},{"year":2020,"month":12,"date":10,"utc":true},{"year":2021,"month":1,"date":21,"utc":true},{"year":2021,"month":3,"date":4,"utc":true},{"year":2021,"month":4,"date":15,"utc":true},{"year":2021,"month":5,"date":27,"utc":true},{"year":2021,"month":7,"date":8,"utc":true},{"year":2021,"month":8,"date":19,"utc":true},{"year":2021,"month":9,"date":30,"utc":true},{"year":2021,"month":11,"date":11,"utc":true},{"year":2021,"month":12,"date":23,"utc":true},{"year":2022,"month":2,"date":3,"utc":true},{"year":2022,"month":3,"date":17,"utc":true}],
    "grid": true, "gridColor": "#EBEBEB", "gridWidth": 2.7, "domain": false,
    "tickColor": "#333333", "tickWidth": 2.5, "tickSize": 7.3,
    "labelFont": "Liberation Sans", "labelFontSize": 23.5, "labelColor": "#4D4D4D", "labelPadding": 8,
    "labelOverlap": false, "labelFlush": false, "labelBound": false,
    "titleFont": "Liberation Sans", "titleFontSize": 32.5, "titleFontWeight": "normal", "titleColor": "#000000", "titlePadding": 11}},
  "y": {"field": "v", "type": "quantitative",
   "scale": {"domain": [-1.27, 29.28], "nice": false, "zero": false},
   "axis": {"title": "Percent Positive COVID-19 Tests", "values": [0, 10, 20],
    "grid": true, "gridColor": "#EBEBEB", "gridWidth": 2.7, "domain": false,
    "tickColor": "#333333", "tickWidth": 2.5, "tickSize": 7.3,
    "labelFont": "Liberation Sans", "labelFontSize": 23.5, "labelColor": "#4D4D4D", "labelPadding": 6,
    "titleFont": "Liberation Sans", "titleFontSize": 32.5, "titleFontWeight": "normal", "titleColor": "#000000", "titlePadding": 10}}},
 "layer": [
  {"data": {"name": "anaheim"}, "mark": {"type": "line", "strokeWidth": 7.8, "strokeJoin": "round", "clip": true},
   "encoding": {"color": {"datum": "Anaheim", "type": "nominal",
    "scale": {"domain": ["Anaheim", "Fullerton", "Garden Grove", "Orange", "Santa Ana"], "range": ["#E69F00", "#56B4E9", "#009E73", "#F0E442", "#0072B2"]},
    "legend": {"title": "City", "orient": "none", "legendX": 97, "legendY": 813, "direction": "horizontal", "columns": 5,
     "titleOrient": "left", "titleFont": "Liberation Sans", "titleFontSize": 32.5, "titleFontWeight": "normal", "titleColor": "#000000", "titlePadding": 15.5, "titleBaseline": "middle", "titleAnchor": "middle",
     "labelFont": "Liberation Sans", "labelFontSize": 23.5, "labelColor": "#000000", "labelOffset": 20,
     "columnPadding": 19.5, "symbolType": "stroke", "symbolSize": 1156, "symbolStrokeWidth": 7, "padding": 0}}}},
  {"data": {"name": "fullerton"}, "mark": {"type": "line", "strokeWidth": 7.8, "strokeJoin": "round", "clip": true},
   "encoding": {"color": {"datum": "Fullerton", "type": "nominal"}}},
  {"data": {"name": "gardengrove"}, "mark": {"type": "line", "strokeWidth": 7.8, "strokeJoin": "round", "clip": true},
   "encoding": {"color": {"datum": "Garden Grove", "type": "nominal"}}},
  {"data": {"name": "orange"}, "mark": {"type": "line", "strokeWidth": 7.8, "strokeJoin": "round", "clip": true},
   "encoding": {"color": {"datum": "Orange", "type": "nominal"}}},
  {"data": {"name": "santaana"}, "mark": {"type": "line", "strokeWidth": 7.8, "strokeJoin": "round", "clip": true},
   "encoding": {"color": {"datum": "Santa Ana", "type": "nominal"}}}
 ]},
{"data": {"values": [{"d":"2021-01-01T17:00:00Z","v":26.45,"t":"UC Irvine COVID Awareness Group"}]},
 "mark": {"type": "text", "font": "Liberation Sans", "fontSize": 32.5, "color": "#9BC3DE", "align": "center", "baseline": "middle"},
 "encoding": {
  "x": {"field": "d", "type": "temporal", "scale": {"type": "utc", "nice": false, "domain": [{"year":2020,"month":4,"date":27,"hours":10,"minutes":30,"utc":true},{"year":2022,"month":4,"date":10,"hours":11,"utc":true}]}},
  "y": {"field": "v", "type": "quantitative", "scale": {"domain": [-1.27, 29.28], "nice": false, "zero": false}},
  "text": {"field": "t"}}}
],
"config": {
 "font": "Liberation Sans",
 "view": {"stroke": "#333333", "strokeWidth": 1.4}
}
}
